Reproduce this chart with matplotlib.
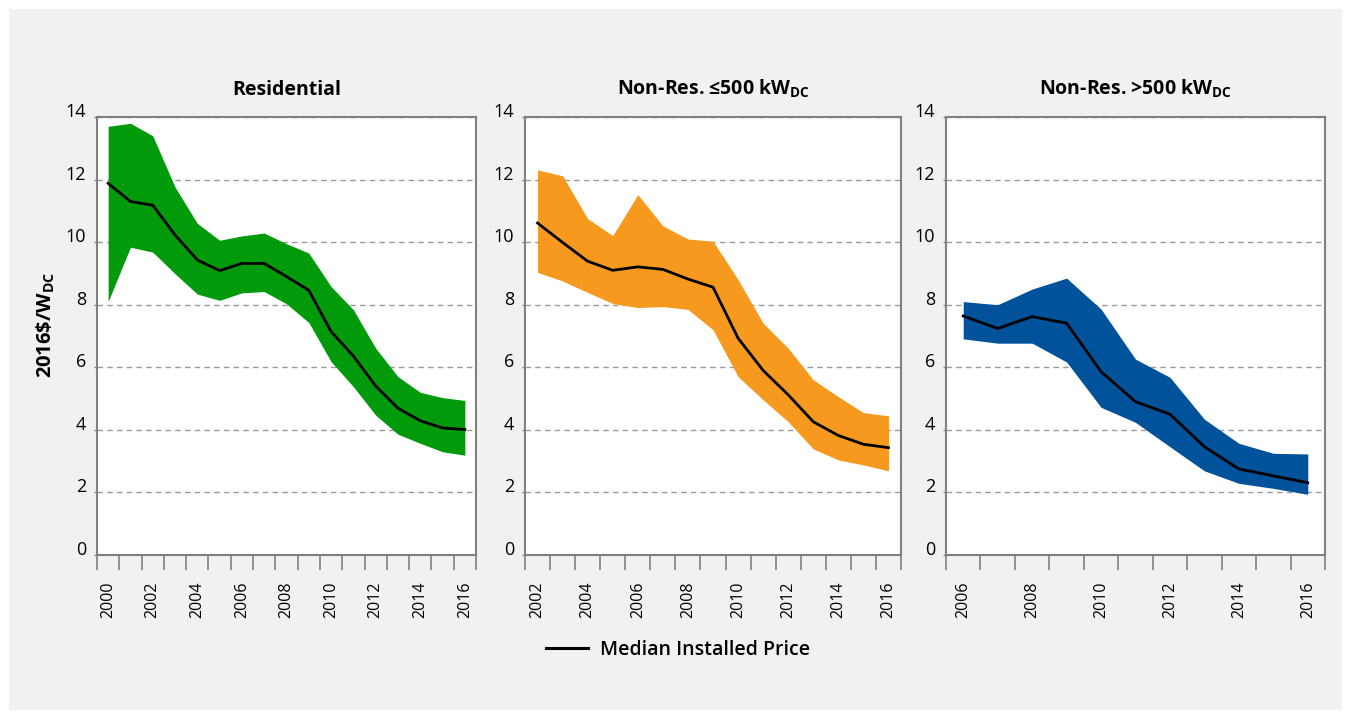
import numpy as np
import matplotlib
matplotlib.use('Agg')
import matplotlib.pyplot as plt
from matplotlib.lines import Line2D
from matplotlib.patches import Rectangle

plt.rcParams['font.family'] = ['Open Sans', 'DejaVu Sans']
plt.rcParams['mathtext.default'] = 'regular'

# Residential
res_years = list(range(2000, 2017))
res_upper = [13.7, 13.8, 13.4, 11.76, 10.6, 10.06, 10.2, 10.29, 9.95, 9.65, 8.58, 7.84, 6.61, 5.7, 5.2, 5.03, 4.94]
res_median = [11.88, 11.3, 11.18, 10.23, 9.43, 9.09, 9.32, 9.32, 8.9, 8.46, 7.14, 6.36, 5.4, 4.69, 4.29, 4.06, 4.01]
res_lower = [8.1, 9.84, 9.68, 8.99, 8.34, 8.14, 8.38, 8.42, 8.03, 7.43, 6.18, 5.38, 4.47, 3.86, 3.57, 3.3, 3.19]

# Non-residential <= 500 kW
small_years = list(range(2002, 2017))
small_upper = [12.31, 12.12, 10.75, 10.21, 11.52, 10.52, 10.1, 10.03, 8.8, 7.41, 6.61, 5.6, 5.06, 4.55, 4.45]
small_median = [10.61, 9.99, 9.39, 9.1, 9.21, 9.13, 8.82, 8.56, 6.93, 5.9, 5.12, 4.26, 3.82, 3.54, 3.43]
small_lower = [9.03, 8.76, 8.39, 8.04, 7.91, 7.94, 7.85, 7.2, 5.7, 4.96, 4.26, 3.39, 3.04, 2.88, 2.69]

# Non-residential > 500 kW
large_years = list(range(2006, 2017))
large_upper = [8.1, 8.0, 8.5, 8.85, 7.86, 6.26, 5.68, 4.34, 3.57, 3.25, 3.23]
large_median = [7.64, 7.24, 7.62, 7.41, 5.86, 4.9, 4.5, 3.46, 2.75, 2.53, 2.31]
large_lower = [6.91, 6.77, 6.77, 6.17, 4.72, 4.24, 3.46, 2.69, 2.29, 2.13, 1.94]

titles = ['Residential',
          'Non-Res. \u2264500 kW$_{DC}$',
          'Non-Res. >500 kW$_{DC}$']
colors = ['#009a0a', '#f7991f', '#00529b']

W, H = 1351, 719
fig = plt.figure(figsize=(W / 100, H / 100), dpi=100, facecolor='white')
fig.patches.append(Rectangle((9 / W, 9 / H), 1 - 18 / W, 1 - 18 / H,
                             transform=fig.transFigure, facecolor='#f1f1f1',
                             edgecolor='none', zorder=-10))

boxes = [(97, 476), (525, 901), (946, 1325)]
top, bottom = 117, 555
panels = [
    (res_years, res_upper, res_median, res_lower),
    (small_years, small_upper, small_median, small_lower),
    (large_years, large_upper, large_median, large_lower),
]

for i, ((x0, x1), (years, upper, median, lower)) in enumerate(zip(boxes, panels)):
    ax = fig.add_axes([x0 / W, 1 - bottom / H, (x1 - x0) / W, (bottom - top) / H])
    ax.set_facecolor('white')
    n = len(years)
    x = np.arange(n) + 0.5
    ax.fill_between(x, lower, upper, color=colors[i], linewidth=0, zorder=2)
    ax.plot(x, median, color='black', linewidth=2, zorder=3)

    ax.set_xlim(0, n)
    ax.set_ylim(0, 14)
    ax.set_yticks(np.arange(0, 15, 2))
    ax.yaxis.grid(True, linestyle=(0, (4, 3)), color='#9a9a9a', linewidth=1)
    ax.set_axisbelow(True)

    ax.set_xticks(np.arange(n + 1))
    ax.set_xticklabels([])
    lab_idx = [k for k, y in enumerate(years) if y % 2 == 0]
    ax.set_xticks(x[lab_idx], minor=True)
    ax.set_xticklabels([str(years[k]) for k in lab_idx], minor=True, rotation=90,
                       fontsize=11.5)
    ax.tick_params(axis='x', which='major', length=11, width=1.2, color='#808080')
    ax.tick_params(axis='x', which='minor', length=0, pad=19)
    ax.tick_params(axis='y', length=2, width=1, color='#808080', labelsize=13, pad=6)
    for lab in ax.get_yticklabels():
        lab.set_verticalalignment('baseline')

    for s in ax.spines.values():
        s.set_color('#808080')
        s.set_linewidth(1.5)

    ax.set_title(titles[i], fontsize=14, fontweight='bold', pad=16)
    if i == 0:
        ax.set_ylabel('2016\\$/W$_{DC}$', fontsize=14.5, fontweight='bold')
        ax.yaxis.set_label_coords(-0.105, 0.525)

handle = Line2D([], [], color='black', linewidth=2.2)
fig.legend([handle], ['Median Installed Price'], loc='center',
           bbox_to_anchor=(678 / W, 1 - 650 / H), frameon=False,
           handlelength=2.2, handletextpad=0.6,
           prop={'weight': 'semibold', 'size': 14})

fig.savefig('out.png', dpi=100, facecolor=fig.get_facecolor())
